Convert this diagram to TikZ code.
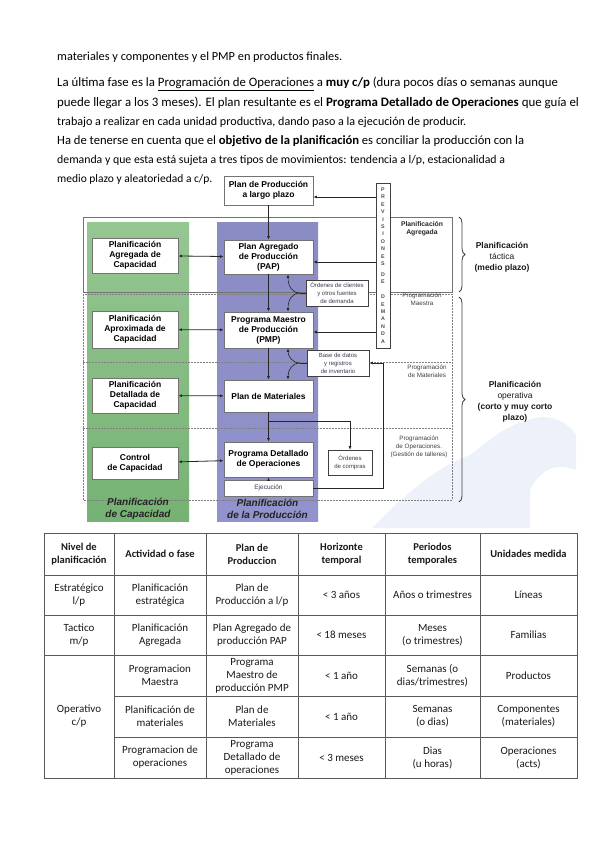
\documentclass[tikz,border=0pt]{standalone}
\usepackage{fontspec}
\setmainfont{Carlito}
\newfontfamily\arialf{Liberation Sans}
\usetikzlibrary{decorations.pathreplacing,shadows,arrows.meta}
\definecolor{gtop}{RGB}{150,198,146}
\definecolor{gmid}{RGB}{232,242,230}
\definecolor{gbot}{RGB}{118,178,116}
\definecolor{ptop}{RGB}{140,140,196}
\definecolor{pmid}{RGB}{216,216,238}
\definecolor{pbot}{RGB}{146,146,204}
\definecolor{wm}{RGB}{236,241,250}
\definecolor{lblc}{RGB}{35,35,35}
\definecolor{smallc}{RGB}{60,60,80}
\begin{document}
\begin{tikzpicture}[x=1pt,y=-1pt,
  body/.style={anchor=west,inner sep=0pt},
  pbox/.style={draw=black!55,line width=0.9pt,fill=white,align=center,inner sep=0pt,
     font=\arialf\bfseries\fontsize{8.5}{10}\selectfont,
     drop shadow={shadow xshift=1.2pt,shadow yshift=-1.2pt,fill=black!35,opacity=1}},
  sbox/.style={draw=black!75,line width=0.7pt,fill=white,align=center,inner sep=0pt,
     font=\arialf\fontsize{6}{8}\selectfont,text=smallc,
     drop shadow={shadow xshift=1pt,shadow yshift=-1pt,fill=black!30,opacity=1}},
  rlab/.style={align=center,inner sep=0pt,font=\arialf\fontsize{6.3}{8}\selectfont,text=black!75},
  blab/.style={align=center,inner sep=0pt,font=\arialf\bfseries\itshape\fontsize{10}{11.5}\selectfont,text=lblc},
  plab/.style={align=center,inner sep=0pt,font=\arialf\fontsize{8.5}{11}\selectfont,text=black!90},
  arr/.style={-{Latex[length=3.5pt,width=3pt]},black!85,line width=0.6pt},
  darr/.style={{Latex[length=3.5pt,width=3pt]}-{Latex[length=3.5pt,width=3pt]},black!85,line width=0.8pt},
  frameline/.style={black!55,line width=0.9pt},
  dashline/.style={black!50,line width=0.6pt,dash pattern=on 2pt off 1pt},
  brc/.style={decorate,decoration={brace,amplitude=6pt},black!75,line width=0.8pt},
  tcell/.style={align=center,inner sep=0pt,font=\fontsize{11}{13}\selectfont,text=black!90},
  thead/.style={tcell,font=\bfseries\fontsize{10.5}{13}\selectfont},
  tline/.style={black!65,line width=0.9pt}
]
\useasboundingbox (0,0) rectangle (600,848);
\fill[white] (0,0) rectangle (600,848);

% ---------- body text ----------
\node[body,font=\fontsize{12.3}{14}\selectfont] (t1) at (57,57) {materiales y componentes y el PMP en productos finales.};
\node[body,font=\fontsize{12.8}{14}\selectfont] (t2) at (57,84) {La última fase es la \underline{Programación de Operaciones} a \textbf{muy c/p} (dura pocos días o semanas aunque};
\node[body,font=\fontsize{12.9}{14}\selectfont] (t3) at (57,103) {puede llegar a los 3 meses). El plan resultante es el \textbf{Programa Detallado de Operaciones} que guía el};
\node[body,font=\fontsize{12.1}{14}\selectfont] (t4) at (57,122) {trabajo a realizar en cada unidad productiva, dando paso a la ejecución de producir.};
\node[body,font=\fontsize{12.6}{14}\selectfont] (t5) at (57,141) {Ha de tenerse en cuenta que el \textbf{objetivo de la planificación} es conciliar la producción con la};
\node[body,font=\fontsize{11.8}{14}\selectfont] (t6) at (57,160) {demanda y que esta está sujeta a tres tipos de movimientos: tendencia a l/p, estacionalidad a};
\node[body,font=\fontsize{11.5}{14}\selectfont] (t7) at (57,179) {medio plazo y aleatoriedad a c/p.};

% ---------- watermark ----------
\fill[wm] (372,528) .. controls (400,500) and (430,470) .. (470,455) .. controls (490,440) and (505,425) .. (535,418)
  .. controls (555,414) and (570,425) .. (576,435) -- (576,470) .. controls (555,462) and (540,470) .. (530,490)
  -- (530,528) -- cycle;

% ---------- columns ----------
\shade[top color=gtop,middle color=gmid,bottom color=gbot] (87,222) rectangle (189,521);
\shade[top color=ptop,middle color=pmid,bottom color=pbot] (217,222) rectangle (318,521);

% ---------- frames ----------
\draw[frameline] (83,217) rectangle (452,292);
\draw[dashline] (83,294) rectangle (452,500);
\draw[dashline] (83,362) -- (452,362);
\draw[dashline] (83,428) -- (452,428);

% ---------- bottom labels ----------
\node[blab] (lcap) at (138,509) {Planificación\\de Capacidad};
\node[blab] (lpro) at (267.5,509) {Planificación\\de la Producción};

% ---------- main boxes ----------
\node[pbox,minimum width=89pt,minimum height=29pt] (lp) at (268.5,190.5) {Plan de Producción\\a largo plazo};
\node[pbox,minimum width=86pt,minimum height=35pt] (pac) at (135,255.5) {Planificación\\Agregada de\\Capacidad};
\node[pbox,minimum width=89pt,minimum height=34pt] (pap) at (268.5,257) {Plan Agregado\\de Producción\\(PAP)};
\node[pbox,minimum width=86pt,minimum height=37pt] (pax) at (135,329.5) {Planificación\\Aproximada de\\Capacidad};
\node[pbox,minimum width=89pt,minimum height=36pt] (pmp) at (268.5,330) {Programa Maestro\\de Producción\\(PMP)};
\node[pbox,minimum width=86pt,minimum height=35pt] (pdc) at (135,395.5) {Planificación\\Detallada de\\Capacidad};
\node[pbox,minimum width=89pt,minimum height=32pt] (pm) at (268.5,396) {Plan de Materiales};
\node[pbox,minimum width=86pt,minimum height=32pt] (cc) at (135,463) {Control\\de Capacidad};
\node[pbox,minimum width=89pt,minimum height=35pt] (pdo) at (268.5,459.5) {Programa Detallado\\de Operaciones};
\node[sbox,draw=black!55,minimum width=89pt,minimum height=16pt,font=\arialf\fontsize{6.5}{8}\selectfont] (ej) at (268.5,488) {Ejecución};

% previsiones
\node[sbox,minimum width=14pt,minimum height=165pt,font=\arialf\bfseries\fontsize{5.3}{7.4}\selectfont,text=black!70] (prev) at (383,265.5)
 {P\\R\\E\\V\\I\\S\\I\\O\\N\\E\\S\\[3.7pt]D\\E\\[7.4pt]D\\E\\M\\A\\N\\D\\A};

% small boxes
\node[sbox,minimum width=62pt,minimum height=26pt] (oc) at (337,293) {Órdenes de clientes\\y otros fuentes\\de demanda};
\node[sbox,minimum width=62pt,minimum height=26pt] (bd) at (338,363) {Base de datos\\y registros\\de inventario};
\node[sbox,minimum width=44pt,minimum height=25pt] (ocp) at (350,462.5) {Órdenes\\de compras};

% right labels
\node[rlab,font=\arialf\bfseries\fontsize{6.8}{8}\selectfont,text=black!85] (ragr) at (422,229) {Planificación\\Agregada};
\node[rlab] (rmae) at (422,299) {Programación\\Maestra};
\node[rlab] (rmat) at (427,371) {Programación\\de Materiales};
\node[rlab] (rope) at (419,447) {Programación\\de Operaciones.\\(Gestión de talleres)};

% braces
\draw[brc] (459,217) -- (459,292);
\draw[brc] (459,297) -- (459,502);
\node[plab] (ltac) at (502,257) {\textbf{Planificación}\\táctica\\\textbf{(medio plazo)}};
\node[plab] (lope) at (515,402) {\textbf{Planificación}\\operativa\\\textbf{(corto y muy corto}\\\textbf{plazo)}};

% ---------- connectors ----------
\draw[arr] (lp) -- (pap);
\draw[arr] (pap) -- (pmp);
\draw[arr] (pmp) -- (pm);
\draw[arr] (pm) -- (pdo);
\draw[arr] (ej.north) -- (pdo.south);

\draw[darr] (pac) -- (pap);
\draw[darr] (pax) -- (pmp);
\draw[darr] (pdc) -- (pm);
\draw[darr] (cc) -- (pdo);

\coordinate (y1) at (0,197);
\coordinate (y2) at (0,262);
\coordinate (y3) at (0,332);
\draw[arr] (prev.west |- y1) -- (lp.east |- y1);
\draw[arr] (prev.west |- y2) -- (pap.east |- y2);
\draw[arr] (prev.west |- y3) -- (pmp.east |- y3);

\coordinate (cx) at (288,0);
\coordinate (s1) at (300,293);
\coordinate (s2) at (300,363);
\draw[black!85,line width=0.6pt] (oc.west) -- (s1);
\draw[arr] (s1) .. controls (292,293) and (288,286) .. (pap.south -| cx);
\draw[arr] (s1) .. controls (292,293) and (288,300) .. (pmp.north -| cx);
\draw[black!85,line width=0.6pt] (bd.west) -- (s2);
\draw[arr] (s2) .. controls (292,363) and (288,356) .. (pmp.south -| cx);
\draw[arr] (s2) .. controls (292,363) and (288,370) .. (pm.north -| cx);

\coordinate (ex) at (383,0);
\draw[arr] (ej.east) -- (ej.east -| ex) -- (bd.east -| ex) -- (bd.east);

\coordinate (br) at (268.5,421);
\draw[arr] (br) -- (br -| ocp.north) -- (ocp.north);

% ---------- table ----------
\fill[white] (44,533) rectangle (577,778);
\draw[tline] (44,533) rectangle (577,778);
\foreach \yy in {575,615,655} \draw[tline] (44,\yy) -- (577,\yy);
\foreach \yy in {696,737} \draw[tline] (114,\yy) -- (577,\yy);
\foreach \xx in {114,206,298,385,480} \draw[tline] (\xx,533) -- (\xx,778);

\node[thead] (h1) at (79,554) {Nivel de\\planificación};
\node[thead] (h2) at (160,554) {Actividad o fase};
\node[thead] (h3) at (252,554) {Plan de\\Produccion};
\node[thead] (h4) at (341.5,554) {Horizonte\\temporal};
\node[thead] (h5) at (432.5,554) {Periodos\\temporales};
\node[thead] (h6) at (528.5,554) {Unidades medida};

\node[tcell] (a1) at (79,595) {Estratégico\\l/p};
\node[tcell] (a2) at (160,595) {Planificación\\estratégica};
\node[tcell] (a3) at (252,595) {Plan de\\Producción a l/p};
\node[tcell] (a4) at (341.5,595) {< 3 años};
\node[tcell] (a5) at (432.5,595) {Años o trimestres};
\node[tcell] (a6) at (528.5,595) {Líneas};

\node[tcell] (b1) at (79,635) {Tactico\\m/p};
\node[tcell] (b2) at (160,635) {Planificación\\Agregada};
\node[tcell] (b3) at (252,635) {Plan Agregado de\\producción PAP};
\node[tcell] (b4) at (341.5,635) {< 18 meses};
\node[tcell] (b5) at (432.5,635) {Meses\\(o trimestres)};
\node[tcell] (b6) at (528.5,635) {Familias};

\node[tcell] (c1) at (79,716.5) {Operativo\\c/p};
\node[tcell] (c2) at (160,675.5) {Programacion\\Maestra};
\node[tcell] (c3) at (252,675.5) {Programa\\Maestro de\\producción PMP};
\node[tcell] (c4) at (341.5,675.5) {< 1 año};
\node[tcell] (c5) at (432.5,675.5) {Semanas (o\\dias/trimestres)};
\node[tcell] (c6) at (528.5,675.5) {Productos};

\node[tcell] (d2) at (160,716.5) {Planificación de\\materiales};
\node[tcell] (d3) at (252,716.5) {Plan de\\Materiales};
\node[tcell] (d4) at (341.5,716.5) {< 1 año};
\node[tcell] (d5) at (432.5,716.5) {Semanas\\(o dias)};
\node[tcell] (d6) at (528.5,716.5) {Componentes\\(materiales)};

\node[tcell] (e2) at (160,757.5) {Programacion de\\operaciones};
\node[tcell] (e3) at (252,757.5) {Programa\\Detallado de\\operaciones};
\node[tcell] (e4) at (341.5,757.5) {< 3 meses};
\node[tcell] (e5) at (432.5,757.5) {Dias\\(u horas)};
\node[tcell] (e6) at (528.5,757.5) {Operaciones\\(acts)};
\end{tikzpicture}
\end{document}
